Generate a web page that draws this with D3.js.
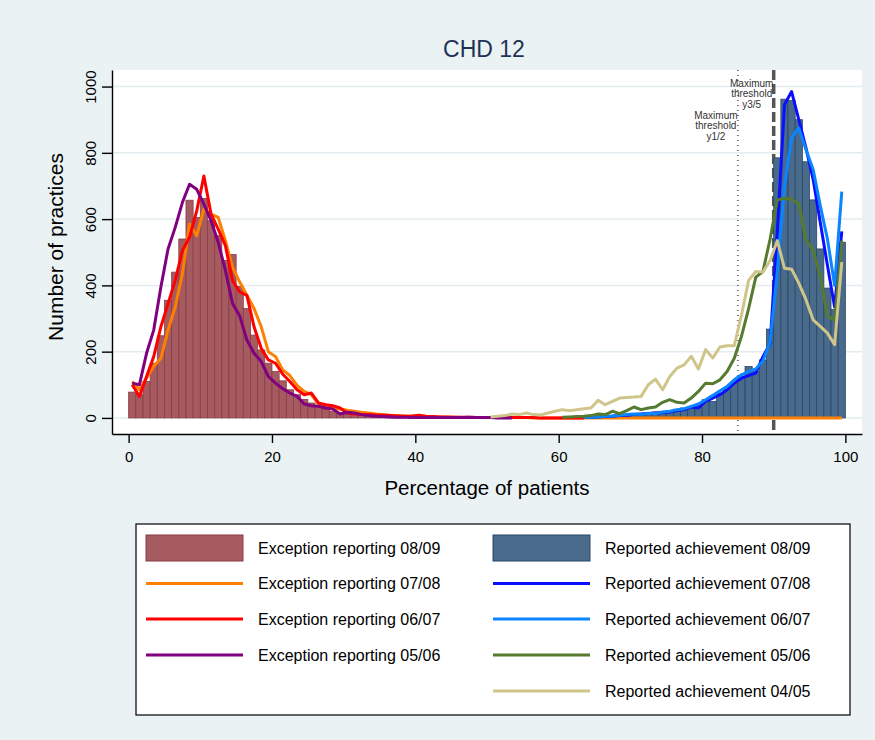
<!DOCTYPE html>
<html>
<head>
<meta charset="utf-8">
<script src="https://cdn.jsdelivr.net/npm/d3@7/dist/d3.min.js"></script>
<style>
    body { margin: 0; background: #eaf2f3; }
    text { font-family: "Liberation Sans", Arial, sans-serif; }
</style>
</head>
<body>
<div id="chart"></div>
<script>
// Distribution of practices for indicator CHD 12.
// Histograms are 1% bins, the lines are frequency polygons at bin midpoints.

// Histogram: exception reporting 08/09, bins starting at 0
const excHistStart = 0;
const excHist0809 = [78, 70, 110, 165, 248, 355, 440, 540, 657, 605,
    662, 595, 550, 475, 493, 397, 330, 250, 205, 165,
    140, 112, 85, 70, 56, 45, 35, 27, 20, 15,
    12, 10, 8, 7, 6, 5, 4, 3, 3, 2,
    2, 2, 1, 1, 1, 1, 1, 1, 1, 1];

// Histogram: reported achievement 08/09, bins starting at 60
const achHistStart = 60;
const achHist0809 = [2, 2, 3, 4, 5, 6, 7, 8, 10, 11,
    13, 14, 16, 18, 20, 22, 26, 30, 30, 40,
    55, 50, 75, 85, 105, 125, 155, 140, 175, 268,
    785, 962, 958, 900, 773, 658, 510, 392, 327, 530];

// Lines: exception reporting (first bin 0)
const exc0708 = [110, 85, 120, 155, 180, 265, 335, 435, 585, 550,
    630, 615, 605, 535, 455, 410, 370, 330, 275, 200,
    185, 145, 128, 98, 80, 70, 42, 37, 30, 27,
    23, 20, 17, 15, 12, 10, 8, 7, 6, 5,
    5, 4, 3, 3, 2, 2, 1, 1, 1, 1,
    1, 1, 1, 1, 1, 1, 0, 0, 0, 0,
    0, 0, 0, 0, 0, 0, 0, 0, 0, 0,
    0, 0, 0, 0, 0, 0, 0, 0, 0, 0,
    0, 0, 0, 0, 0, 0, 0, 0, 0, 0,
    0, 0, 0, 0, 0, 0, 0, 0, 0, 0];
const exc0607 = [100, 65, 125, 185, 275, 345, 415, 505, 545, 625,
    730, 615, 570, 520, 415, 380, 370, 275, 210, 175,
    165, 132, 110, 85, 70, 75, 45, 40, 37, 30,
    15, 12, 10, 10, 9, 8, 7, 6, 5, 6,
    8, 5, 4, 3, 3, 2, 2, 2, 1, 1,
    1, 1, 1, 1, 1, 1, 1, 0, 0, 0,
    0, 0, 0, 0];
const exc0506 = [105, 100, 195, 265, 395, 510, 575, 650, 705, 690,
    645, 595, 530, 445, 345, 308, 235, 195, 170, 125,
    105, 88, 75, 65, 42, 37, 35, 30, 27, 12,
    17, 15, 10, 7, 5, 4, 3, 2, 2, 1,
    1, 1, 1, 1, 1, 1, 1, 2, 1, 1,
    1, 0, 0, 0];

// Lines: reported achievement (first bin given separately)
const ach0708Start = 63;
const ach0708 = [1, 2, 3, 4, 5, 7, 8,
    10, 12, 13, 15, 16, 18, 22, 25, 33, 30,
    50, 60, 70, 85, 105, 120, 128, 135, 185, 225,
    560, 945, 985, 900, 815, 720, 590, 460, 335, 563];
const ach0607Start = 63;
const ach0607 = [1, 2, 3, 5, 6, 8, 10,
    12, 10, 14, 13, 18, 20, 25, 28, 35, 42,
    55, 68, 82, 95, 115, 130, 140, 148, 172, 230,
    440, 700, 845, 875, 810, 750, 640, 540, 400, 683];
const ach0506Start = 60;
const ach0506 = [2, 3, 4, 5, 7, 12, 10, 20, 13, 22,
    33, 25, 30, 33, 47, 55, 47, 45, 60, 80,
    105, 103, 115, 140, 180, 246, 330, 425, 442, 540,
    658, 663, 660, 646, 538, 505, 427, 308, 295, 535];
const ach0405Start = 50;
const ach0405 = [3, 5, 7, 12, 10, 15, 10, 9, 15, 20,
    25, 22, 25, 28, 30, 53, 40, 50, 60, 62,
    63, 65, 100, 117, 85, 125, 150, 160, 186, 148,
    206, 181, 214, 218, 218, 310, 415, 442, 440, 475,
    535, 452, 449, 407, 357, 296, 276, 256, 221, 470];

// Axis ticks and reference lines
const xTicks = [0, 20, 40, 60, 80, 100];
const yTicks = [0, 200, 400, 600, 800, 1000];
const thresholdY12 = 85;
const thresholdY35 = 90;

// Legend labels, in the order they appear (left column, right column)
const legendLeft = ["Exception reporting 08/09", "Exception reporting 07/08",
    "Exception reporting 06/07", "Exception reporting 05/06"];
const legendRight = ["Reported achievement 08/09", "Reported achievement 07/08",
    "Reported achievement 06/07", "Reported achievement 05/06",
    "Reported achievement 04/05"];

// Colours
const excBarFill = "#a55b60", excBarLine = "#8a3d43";
const achBarFill = "#4a6a8b", achBarLine = "#274868";
const cOrange = "#ff8000", cRed = "#ff0000", cPurple = "#800080";
const cBlue = "#0a10ff", cLtBlue = "#0a84ff", cGreen = "#567a2f", cKhaki = "#cfc58a";

// ---------------------------------------------------------------
const W = 875, H = 740;
const plotL = 112, plotR = 862, plotT = 70, plotB = 434;

const svg = d3.select("#chart").append("svg")
    .attr("width", W)
    .attr("height", H);

svg.append("rect")
    .attr("width", W).attr("height", H)
    .attr("fill", "#eaf2f3");

// Scales
const x = d3.scaleLinear().domain([-2.32, 102.32]).range([plotL, plotR]);
const y = d3.scaleLinear().domain([-48.5, 1050]).range([plotB, plotT]);

// Plot region
svg.append("rect")
    .attr("x", plotL).attr("y", plotT)
    .attr("width", plotR - plotL).attr("height", plotB - plotT)
    .attr("fill", "white");

// Horizontal grid lines
svg.append("g").selectAll("line")
    .data(yTicks)
    .join("line")
    .attr("x1", plotL).attr("x2", plotR)
    .attr("y1", d => y(d)).attr("y2", d => y(d))
    .attr("stroke", "#e3ecef")
    .attr("stroke-width", 1.5);

// Threshold reference lines (drawn beneath the data)
svg.append("line")
    .attr("x1", x(thresholdY12)).attr("x2", x(thresholdY12))
    .attr("y1", plotT).attr("y2", plotB)
    .attr("stroke", "#777")
    .attr("stroke-width", 2)
    .attr("stroke-dasharray", "1,4");

svg.append("line")
    .attr("x1", x(thresholdY35)).attr("x2", x(thresholdY35))
    .attr("y1", plotT).attr("y2", plotB)
    .attr("stroke", "#555")
    .attr("stroke-width", 3.5)
    .attr("stroke-dasharray", "10,4");

// Histogram bars
function drawHist(values, start, fill, stroke) {
    let bins = [];
    for (let i = 0; i < values.length; i++) {
        if (values[i] > 0) {
            bins.push({ bin: start + i, v: values[i] });
        }
    }
    svg.append("g").selectAll("rect")
        .data(bins)
        .join("rect")
        .attr("x", d => x(d.bin))
        .attr("width", d => x(d.bin + 1) - x(d.bin))
        .attr("y", d => y(d.v))
        .attr("height", d => y(0) - y(d.v))
        .attr("fill", fill)
        .attr("stroke", stroke)
        .attr("stroke-width", 0.8);
}

drawHist(excHist0809, excHistStart, excBarFill, excBarLine);
drawHist(achHist0809, achHistStart, achBarFill, achBarLine);

// Frequency polygon lines, points at bin midpoints
function drawLine(values, start, color) {
    let pts = [];
    for (let i = 0; i < values.length; i++) {
        pts.push([x(start + i + 0.5), y(values[i])]);
    }
    svg.append("path")
        .attr("d", d3.line()(pts))
        .attr("fill", "none")
        .attr("stroke", color)
        .attr("stroke-width", 3)
        .attr("stroke-linejoin", "round");
}

drawLine(exc0708, 0, cOrange);
drawLine(ach0708, ach0708Start, cBlue);
drawLine(exc0607, 0, cRed);
drawLine(ach0607, ach0607Start, cLtBlue);
drawLine(exc0506, 0, cPurple);
drawLine(ach0506, ach0506Start, cGreen);
drawLine(ach0405, ach0405Start, cKhaki);

// Threshold labels
function thresholdLabel(xv, lines, y0) {
    svg.append("g").selectAll("text")
        .data(lines)
        .join("text")
        .attr("x", x(xv) - 22)
        .attr("y", (d, i) => y0 + i * 10.5)
        .attr("text-anchor", "middle")
        .attr("font-size", "10px")
        .attr("fill", "#333")
        .text(d => d);
}
thresholdLabel(thresholdY35, ["Maximum", "threshold", "y3/5"], 86.5);
thresholdLabel(thresholdY12, ["Maximum", "threshold", "y1/2"], 118.5);

// Axes
const yAxis = svg.append("g")
    .attr("transform", `translate(${plotL},0)`)
    .call(d3.axisLeft(y).tickValues(yTicks).tickFormat(d3.format("d"))
        .tickSizeInner(10).tickSizeOuter(0));
yAxis.selectAll("text")
    .attr("transform", "rotate(-90)")
    .attr("x", 0).attr("y", -16).attr("dy", 0)
    .attr("text-anchor", "middle")
    .attr("font-size", "15px")
    .attr("fill", "#000");

const xAxis = svg.append("g")
    .attr("transform", `translate(0,${plotB})`)
    .call(d3.axisBottom(x).tickValues(xTicks).tickSizeInner(9).tickSizeOuter(0));
xAxis.selectAll("text")
    .attr("y", 17).attr("dy", "0.71em")
    .attr("font-size", "15px")
    .attr("fill", "#000");

svg.selectAll(".domain, .tick line")
    .attr("stroke", "#000")
    .attr("stroke-width", 1.4);

// Axis titles and title
svg.append("text")
    .attr("transform", "translate(63,247) rotate(-90)")
    .attr("text-anchor", "middle")
    .attr("font-size", "21px")
    .text("Number of practices");

svg.append("text")
    .attr("x", 487).attr("y", 495)
    .attr("text-anchor", "middle")
    .attr("font-size", "20.5px")
    .text("Percentage of patients");

svg.append("text")
    .attr("x", 484).attr("y", 57)
    .attr("text-anchor", "middle")
    .attr("font-size", "23px")
    .attr("fill", "#1e3258")
    .text("CHD 12");

// Legend
const legend = svg.append("g");
legend.append("rect")
    .attr("x", 136).attr("y", 524)
    .attr("width", 714).attr("height", 191)
    .attr("fill", "white")
    .attr("stroke", "#000")
    .attr("stroke-width", 1.2);

const rowY = [548, 583.5, 619, 655, 691];
const leftKeys = [
    { type: "bar", fill: excBarFill, stroke: excBarLine },
    { type: "line", color: cOrange },
    { type: "line", color: cRed },
    { type: "line", color: cPurple }];
const rightKeys = [
    { type: "bar", fill: achBarFill, stroke: achBarLine },
    { type: "line", color: cBlue },
    { type: "line", color: cLtBlue },
    { type: "line", color: cGreen },
    { type: "line", color: cKhaki }];

function legendColumn(labels, keys, x0, tx) {
    for (let i = 0; i < labels.length; i++) {
        const k = keys[i];
        if (k.type == "bar") {
            legend.append("rect")
                .attr("x", x0).attr("y", rowY[i] - 13)
                .attr("width", 97).attr("height", 26)
                .attr("fill", k.fill)
                .attr("stroke", k.stroke)
                .attr("stroke-width", 1);
        } else {
            legend.append("line")
                .attr("x1", x0).attr("x2", x0 + 97)
                .attr("y1", rowY[i]).attr("y2", rowY[i])
                .attr("stroke", k.color)
                .attr("stroke-width", 3);
        }
        legend.append("text")
            .attr("x", tx).attr("y", rowY[i] + 5.5)
            .attr("font-size", "16px")
            .text(labels[i]);
    }
}
legendColumn(legendLeft, leftKeys, 146, 258);
legendColumn(legendRight, rightKeys, 493, 605);
</script>
</body>
</html>
